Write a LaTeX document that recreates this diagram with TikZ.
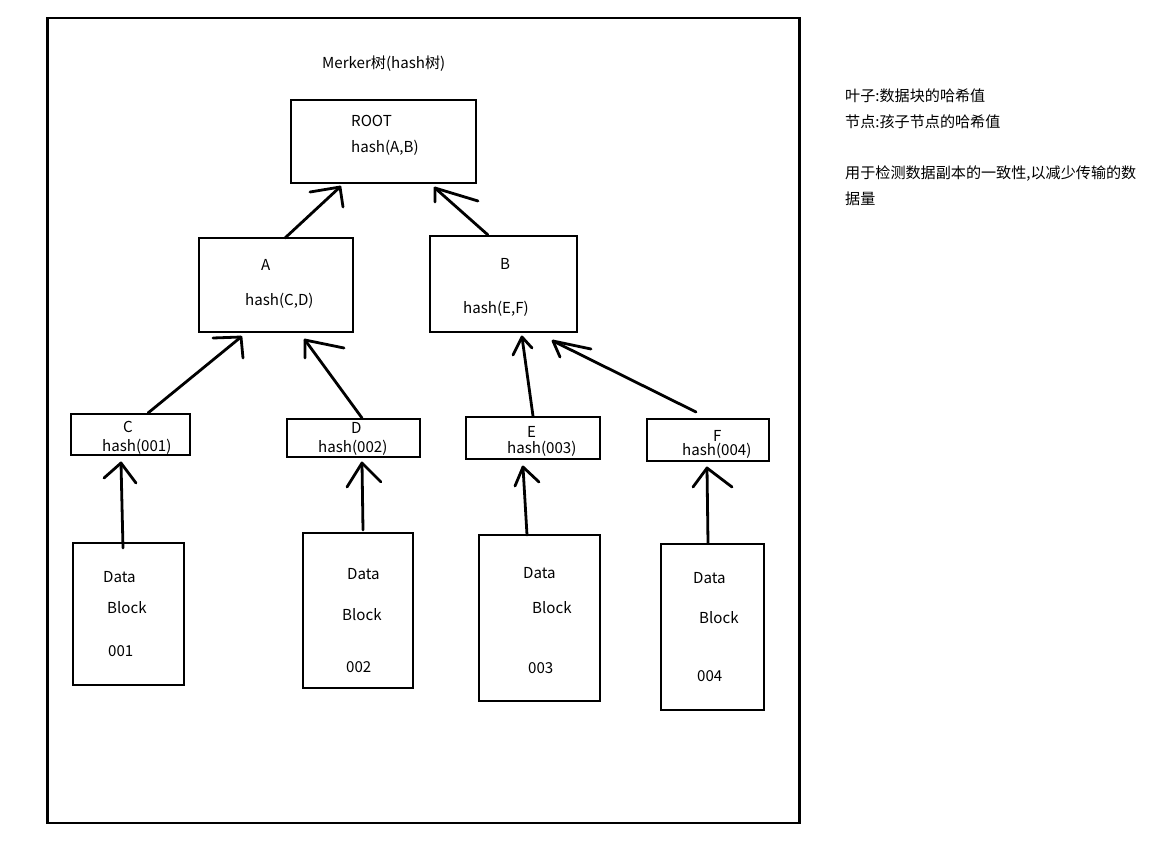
\documentclass[tikz,border=0pt]{standalone}
\usepackage{fontspec}
\setmainfont{Noto Sans CJK SC}
\begin{document}
\begin{tikzpicture}[x=1pt,y=-1pt,
  box/.style={draw,line width=2.8pt,inner sep=0pt},
  lbl/.style={anchor=base west,inner sep=0pt,font=\fontsize{15.1}{18}\selectfont},
  arr/.style={line width=2.8pt,line cap=round,line join=round}]
\useasboundingbox (0,0) rectangle (1150,841);
% frame
\node[box,minimum width=752,minimum height=805] (frame) at (423.5,420.5) {};
\node[lbl] (title) at (322,68) {Merker树(hash树)};
% tree boxes
\node[box,minimum width=185,minimum height=83] (root) at (383.5,141.5) {};
\node[box,minimum width=154,minimum height=94] (A) at (276,285) {};
\node[box,minimum width=147,minimum height=96] (B) at (503.5,284) {};
\node[box,minimum width=119,minimum height=41] (C) at (130.5,434.5) {};
\node[box,minimum width=133,minimum height=38] (D) at (353.5,438) {};
\node[box,minimum width=134,minimum height=42] (E) at (533,438) {};
\node[box,minimum width=122,minimum height=42] (F) at (708,440) {};
\node[box,minimum width=111,minimum height=142] (d1) at (128.5,614) {};
\node[box,minimum width=110,minimum height=155] (d2) at (358,610.5) {};
\node[box,minimum width=121,minimum height=166] (d3) at (539.5,618) {};
\node[box,minimum width=103,minimum height=166] (d4) at (712.5,627) {};
% labels
\node[lbl] (tRoot) at (351,126) {ROOT};
\node[lbl] (hRoot) at (351,152) {hash(A,B)};
\node[lbl] (tA) at (261,270) {A};
\node[lbl] (hA) at (245,305) {hash(C,D)};
\node[lbl] (tB) at (500,269) {B};
\node[lbl] (hB) at (463,313) {hash(E,F)};
\node[lbl] (tC) at (123,432) {C};
\node[lbl] (hC) at (102,451) {hash(001)};
\node[lbl] (tD) at (351,433) {D};
\node[lbl] (hD) at (318,452) {hash(002)};
\node[lbl] (tE) at (527,437) {E};
\node[lbl] (hE) at (507,453) {hash(003)};
\node[lbl] (tF) at (713,441) {F};
\node[lbl] (hF) at (682,455) {hash(004)};
\node[lbl] (a1) at (103,582) {Data};
\node[lbl] (b1) at (107,613) {Block};
\node[lbl] (c1) at (108,656) {001};
\node[lbl] (a2) at (347,579) {Data};
\node[lbl] (b2) at (342,620) {Block};
\node[lbl] (c2) at (346,672) {002};
\node[lbl] (a3) at (523,578) {Data};
\node[lbl] (b3) at (532,613) {Block};
\node[lbl] (c3) at (528,673) {003};
\node[lbl] (a4) at (693,583) {Data};
\node[lbl] (b4) at (699,623) {Block};
\node[lbl] (c4) at (697,681) {004};
% side notes
\node[lbl] (n1) at (845,101) {叶子:数据块的哈希值};
\node[lbl] (n2) at (845,127) {节点:孩子节点的哈希值};
\node[lbl] (n3) at (845,178) {用于检测数据副本的一致性,以减少传输的数};
\node[lbl] (n4) at (845,204) {据量};
% arrow coordinates
\coordinate (sCA) at (148,413); \coordinate (tCA) at (241,337);
\coordinate (sDA) at (362,418); \coordinate (tDA) at (305,340);
\coordinate (sEB) at (533,416); \coordinate (tEB) at (522,337);
\coordinate (sFB) at (696,412); \coordinate (tFB) at (553,341);
\coordinate (sAR) at (285,238); \coordinate (tAR) at (340,187);
\coordinate (sBR) at (488,235); \coordinate (tBR) at (435,188);
\coordinate (s1C) at (123,548); \coordinate (t1C) at (121,463);
\coordinate (s2D) at (363,530); \coordinate (t2D) at (362,463);
\coordinate (s3E) at (527,535); \coordinate (t3E) at (523,467);
\coordinate (s4F) at (708,543); \coordinate (t4F) at (707,468);
% arrows
\draw[arr] (sCA) -- (tCA); \draw[arr] (213,338) -- (tCA) -- (243,358);
\draw[arr] (sDA) -- (tDA); \draw[arr] (305,358) -- (tDA) -- (344,348);
\draw[arr] (sEB) -- (tEB); \draw[arr] (513,355) -- (tEB) -- (532,348);
\draw[arr] (sFB) -- (tFB); \draw[arr] (560,357) -- (tFB) -- (591,349);
\draw[arr] (sAR) -- (tAR); \draw[arr] (310,192) -- (tAR) -- (343,207);
\draw[arr] (sBR) -- (tBR); \draw[arr] (435,202) -- (tBR) -- (478,201);
\draw[arr] (s1C) -- (t1C); \draw[arr] (104,478) -- (t1C) -- (136,483);
\draw[arr] (s2D) -- (t2D); \draw[arr] (347,487) -- (t2D) -- (381,482);
\draw[arr] (s3E) -- (t3E); \draw[arr] (515,486) -- (t3E) -- (539,482);
\draw[arr] (s4F) -- (t4F); \draw[arr] (693,487) -- (t4F) -- (732,487);
\end{tikzpicture}
\end{document}
